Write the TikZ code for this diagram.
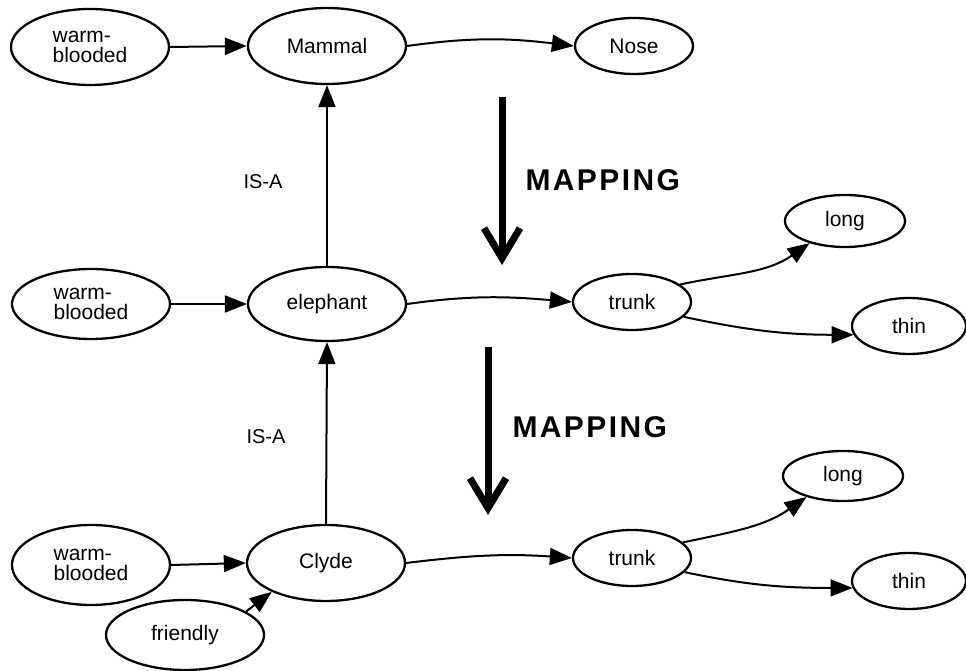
\documentclass[tikz,border=0pt]{standalone}
\usepackage{fontspec}
\setmainfont{Liberation Sans}
\usetikzlibrary{arrows.meta,shapes.geometric}
\begin{document}
\begin{tikzpicture}[x=1pt,y=1pt,
  concept/.style={ellipse, draw, line width=2.3pt, inner sep=0pt,
    font=\fontsize{21}{20.5}\selectfont},
  big/.style={concept, minimum width=158pt, minimum height=76pt},
  small/.style={concept, minimum width=118pt, minimum height=56pt},
  twoline/.style={align=left},
  link/.style={line width=2pt, -{Triangle[length=22pt,width=17pt]}},
  mapping/.style={line width=7pt, -{Straight Barb[length=30pt,width=36pt]}},
  maptext/.style={font=\fontsize{30}{36}\bfseries\addfontfeatures{LetterSpace=8}\selectfont, anchor=west},
  isa/.style={font=\fontsize{20}{24}\selectfont}]
\useasboundingbox (0,0) rectangle (966,671);

% top row: the general concept
\node[big, twoline] (wb1) at (90,624) {warm-\\blooded};
\node[big] (mammal) at (327,625) {Mammal};
\node[small] (nose) at (634,625) {Nose};

% middle row: elephant
\node[big, twoline, minimum height=70pt] (wb2) at (91,367) {warm-\\blooded};
\node[big, minimum height=74pt] (elephant) at (327,367) {elephant};
\node[small] (trunk1) at (632,369) {trunk};
\node[small, minimum width=120pt, minimum height=52pt] (long1) at (845,450) {long};
\node[small, minimum width=114pt] (thin1) at (909,345) {thin};

% bottom row: Clyde
\node[big, twoline, minimum height=80pt] (wb3) at (91,106) {warm-\\blooded};
\node[big] (clyde) at (326,108) {Clyde};
\node[big, minimum height=70pt] (friendly) at (185,36) {friendly};
\node[small] (trunk2) at (632,113) {trunk};
\node[small, minimum width=120pt, minimum height=50pt] (long2) at (843,195) {long};
\node[small, minimum width=114pt] (thin2) at (909,90) {thin};

% IS-A labels
\node[isa] (isa1) at (263,489) {IS-A};
\node[isa] (isa2) at (266,234) {IS-A};

% connectors
\draw[link] (wb1.east) -- (mammal.west);
\draw[link] (mammal.east) to[out=8,in=173] (nose.west);
\draw[link] (elephant.north) -- (mammal.south);
\draw[link] (wb2.east) -- (elephant.west);
\draw[link] (elephant.east) to[out=8,in=175] (trunk1.west);
\draw[link] (trunk1.20) to[out=12,in=215] (long1.212);
\draw[link] (trunk1.-16) to[out=-12,in=180] (thin1.189);
\draw[link] (clyde.north) -- (elephant.south);
\draw[link] (wb3.east) -- (clyde.west);
\draw[link] (friendly.21) -- (clyde.208);
\draw[link] (clyde.east) to[out=7,in=176] (trunk2.west);
\draw[link] (trunk2.17) to[out=12,in=215] (long2.210);
\draw[link] (trunk2.-15) to[out=-12,in=180] (thin2.187);

% mapping arrows
\coordinate (m1a) at (502,574);
\coordinate (m1b) at (502,406);
\coordinate (m2a) at (488,324);
\coordinate (m2b) at (488,156);
\draw[mapping] (m1a) -- (m1b);
\draw[mapping] (m2a) -- (m2b);
\node[maptext] (map1) at (522,491) {MAPPING};
\node[maptext] (map2) at (509,244) {MAPPING};
\end{tikzpicture}
\end{document}
